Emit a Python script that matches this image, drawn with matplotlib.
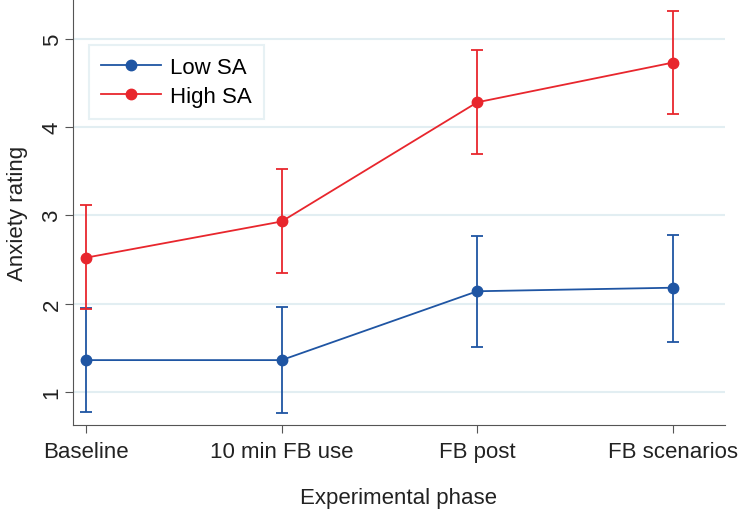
import matplotlib
matplotlib.use("Agg")
import matplotlib.pyplot as plt
from matplotlib.lines import Line2D
import numpy as np

phases = ["Baseline", "10 min FB use", "FB post", "FB scenarios"]
low_mean = [1.36, 1.36, 2.14, 2.18]
low_lo = [0.77, 0.76, 1.51, 1.57]
low_hi = [1.95, 1.96, 2.77, 2.78]
high_mean = [2.52, 2.93, 4.28, 4.73]
high_lo = [1.94, 2.35, 3.70, 4.15]
high_hi = [3.12, 3.52, 4.87, 5.31]

plt.rcParams["font.family"] = ["Liberation Sans", "DejaVu Sans"]

fig = plt.figure(figsize=(7.39, 5.10), dpi=100)
ax = fig.add_axes([0.0988, 0.1647, 0.8822, 0.8353])

x = np.arange(len(phases))
blue, red = "#1f55a3", "#e8262d"
handles = []
for mean, lo, hi, c, lab in [(low_mean, low_lo, low_hi, blue, "Low SA"),
                             (high_mean, high_lo, high_hi, red, "High SA")]:
    mean, lo, hi = map(np.array, (mean, lo, hi))
    ax.errorbar(x, mean, yerr=[mean - lo, hi - mean], color=c, lw=1.3,
                marker="o", ms=7.5, capsize=4, capthick=1.3, elinewidth=1.3,
                zorder=3)
    handles.append(Line2D([], [], color=c, lw=1.3, marker="o", ms=7.5, label=lab))

ax.set_xlim(-0.066, 3.266)
ax.set_ylim(0.625, 5.45)
ax.set_yticks([1, 2, 3, 4, 5])
ax.set_xticks(x)
ax.set_xticklabels(phases, fontsize=16)
for t in ax.get_yticklabels():
    t.set_rotation(90)
    t.set_va("center")
    t.set_fontsize(16)
ax.grid(axis="y", color="#e2eef2", lw=1.5)
ax.set_axisbelow(True)
for s in ["top", "right"]:
    ax.spines[s].set_visible(False)
for s in ["left", "bottom"]:
    ax.spines[s].set_color("#555555")
ax.tick_params(colors="#555555", labelcolor="#222222", length=5.5)
ax.tick_params(axis="x", pad=6)
ax.tick_params(axis="y", pad=2)
ax.set_xlabel("Experimental phase", fontsize=16, color="#222222", labelpad=18)
ax.set_ylabel("Anxiety rating", fontsize=16, color="#222222", labelpad=10)

leg = ax.legend(handles=handles, loc="upper left", bbox_to_anchor=(0.0245, 0.892),
                borderaxespad=0, fontsize=16, frameon=True, fancybox=False,
                handlelength=2.7, handletextpad=0.4, borderpad=0.55,
                labelspacing=0.35)
leg.get_frame().set_edgecolor("#e2eef2")
leg.get_frame().set_linewidth(1.5)

fig.savefig("out.png", dpi=100)
